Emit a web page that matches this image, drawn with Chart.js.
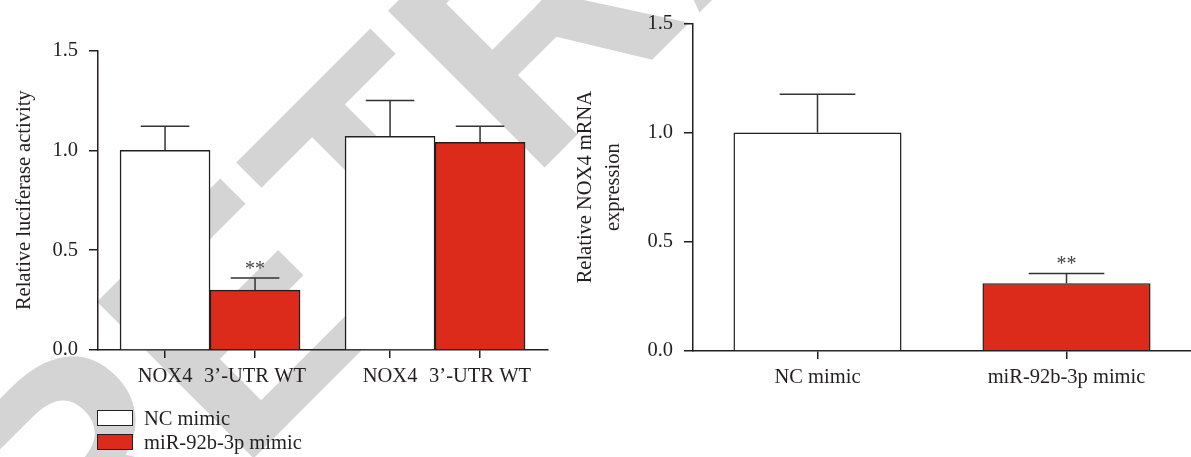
<!DOCTYPE html>
<html>
<head>
<meta charset="utf-8">
<script src="https://cdn.jsdelivr.net/npm/chart.js@4.4.1/dist/chart.umd.min.js"></script>
<style>
  html, body { margin: 0; padding: 0; background: #fff; }
  #quadro { position: relative; width: 1191px; height: 457px; overflow: hidden; }
  #marca { position: absolute; left: 0; top: 0; }
  #grafico1 { position: absolute; left: 0; top: 0; }
  #grafico2 { position: absolute; left: 560px; top: 0; }
  #legenda { position: absolute; left: 97px; top: 410px; font: 20.5px "Liberation Serif"; color: #231f20; }
  #legenda div { height: 24px; line-height: 16px; white-space: nowrap; }
  #legenda span.caixa { display: inline-block; width: 34px; height: 14px; border: 1.5px solid #231f20; vertical-align: top; margin-right: 11px; }
</style>
</head>
<body>
<div id="quadro">
  <svg id="marca" width="1191" height="457">
    <text x="74" y="638" transform="rotate(-45 74 638)" font-family="Liberation Sans" font-weight="bold" font-size="322" fill="#d4d4d4">RETRACTED</text>
  </svg>
  <canvas id="grafico1" width="560" height="457"></canvas>
  <canvas id="grafico2" width="631" height="457"></canvas>
  <div id="legenda"></div>
</div>
<script>
// grafico da esquerda - luciferase
const rotulosLuci = ['NOX4', '3\u2019-UTR WT', 'NOX4', '3\u2019-UTR WT'];
const posLuci = [0, 1, 2.5, 3.5];
const ncLuciX = [0, 2.5];
const ncLuci = [1.00, 1.07];
const ncLuciErro = [1.12, 1.25];
const mimicLuciX = [1, 3.5];
const mimicLuci = [0.30, 1.04];
const mimicLuciErro = [0.36, 1.12];
const mimicLuciSig = ['**', ''];

// grafico da direita - mRNA
const rotulosNox = ['NC mimic', 'miR-92b-3p mimic'];
const ncNox = [1.00, null];
const ncNoxErro = [1.175, null];
const mimicNox = [null, 0.31];
const mimicNoxErro = [null, 0.355];
const mimicNoxSig = ['', '**'];

const nomes = ['NC mimic', 'miR-92b-3p mimic'];
const cores = ['#ffffff', '#dc2b1b'];
const corTexto = '#231f20';
const fonte = { family: 'Liberation Serif', size: 20.5 };

const barrasErro = {
  id: 'barrasErro',
  afterDatasetsDraw(chart, args, opts) {
    const ctx = chart.ctx;
    const escalaY = chart.scales.y;
    chart.data.datasets.forEach((ds, i) => {
      const meta = chart.getDatasetMeta(i);
      meta.data.forEach((bar, j) => {
        const valor = meta._parsed[j] ? meta._parsed[j].y : null;
        const topo = ds.erros[j];
        if (valor == null || isNaN(valor) || topo == null) return;
        const yTopo = escalaY.getPixelForValue(topo);
        const meia = bar.width * opts.cap / 2;
        ctx.save();
        ctx.strokeStyle = '#333';
        ctx.lineWidth = 1.5;
        ctx.beginPath();
        ctx.moveTo(bar.x, bar.y);
        ctx.lineTo(bar.x, yTopo);
        ctx.moveTo(bar.x - meia, yTopo);
        ctx.lineTo(bar.x + meia, yTopo);
        ctx.stroke();
        if (ds.sig && ds.sig[j]) {
          ctx.fillStyle = '#444';
          ctx.font = '20px "Liberation Serif"';
          ctx.textAlign = 'center';
          ctx.textBaseline = 'alphabetic';
          ctx.fillText(ds.sig[j], bar.x, yTopo - 3);
        }
        ctx.restore();
      });
    });
  }
};

function eixoY(titulo, largura, padTitulo) {
  return {
    min: 0,
    max: 1.5,
    ticks: { stepSize: 0.5, callback: v => v.toFixed(1), color: corTexto, font: fonte, padding: 11 },
    grid: { drawOnChartArea: false, tickLength: 9, color: corTexto, lineWidth: 1.5 },
    border: { color: corTexto, width: 1.5 },
    title: { display: true, text: titulo, color: corTexto, font: { family: 'Liberation Serif', size: 20.5, lineHeight: 1.4 }, padding: { top: padTitulo, bottom: 0 } },
    afterFit: s => { s.width = largura; }
  };
}

const grafico1 = new Chart(document.getElementById('grafico1'), {
  type: 'bar',
  data: {
    datasets: [
      {
        label: nomes[0],
        data: ncLuciX.map((x, i) => ({ x: x, y: ncLuci[i] })),
        erros: ncLuciErro,
        backgroundColor: cores[0],
        borderColor: corTexto,
        borderWidth: 1.5
      },
      {
        label: nomes[1],
        data: mimicLuciX.map((x, i) => ({ x: x, y: mimicLuci[i] })),
        erros: mimicLuciErro,
        sig: mimicLuciSig,
        backgroundColor: cores[1],
        borderColor: corTexto,
        borderWidth: 1.5
      }
    ]
  },
  options: {
    responsive: false,
    animation: false,
    grouped: false,
    categoryPercentage: 1,
    barPercentage: 1,
    layout: { padding: { top: 50.5, right: 12, left: 0, bottom: 0 } },
    plugins: { legend: { display: false }, tooltip: { enabled: false }, barrasErro: { cap: 0.54 } },
    scales: {
      x: {
        type: 'linear',
        min: -0.745,
        max: 4.255,
        offset: false,
        afterBuildTicks: s => { s.ticks = posLuci.map(v => ({ value: v })); },
        ticks: { callback: (v, i) => rotulosLuci[i], autoSkip: false, maxRotation: 0, color: corTexto, font: fonte, padding: 6 },
        grid: { offset: false, drawOnChartArea: false, tickLength: 8, color: corTexto, lineWidth: 1.5 },
        border: { color: corTexto, width: 1.5 },
        afterFit: s => { s.height = 107; }
      },
      y: eixoY('Relative luciferase activity', 98, 10)
    }
  },
  plugins: [barrasErro]
});

const grafico2 = new Chart(document.getElementById('grafico2'), {
  type: 'bar',
  data: {
    labels: rotulosNox,
    datasets: [
      { label: nomes[0], data: ncNox, erros: ncNoxErro, backgroundColor: cores[0], borderColor: corTexto, borderWidth: 1.5 },
      { label: nomes[1], data: mimicNox, erros: mimicNoxErro, sig: mimicNoxSig, backgroundColor: cores[1], borderColor: corTexto, borderWidth: 1.5 }
    ]
  },
  options: {
    responsive: false,
    animation: false,
    grouped: false,
    categoryPercentage: 1,
    barPercentage: 0.675,
    layout: { padding: { top: 16.5, right: 0, left: 0, bottom: 0 } },
    plugins: { legend: { display: false }, tooltip: { enabled: false }, barrasErro: { cap: 0.45 } },
    scales: {
      x: {
        ticks: { color: corTexto, font: fonte, padding: 6, maxRotation: 0 },
        grid: { offset: false, drawOnChartArea: false, tickLength: 8, color: corTexto, lineWidth: 1.5 },
        border: { color: corTexto, width: 1.5 },
        afterFit: s => { s.height = 106; }
      },
      y: eixoY(['Relative NOX4 mRNA', 'expression'], 133, 11)
    }
  },
  plugins: [barrasErro]
});

// legenda em html, montada a partir dos datasets
const legenda = document.getElementById('legenda');
grafico1.data.datasets.forEach(ds => {
  const linha = document.createElement('div');
  linha.innerHTML = `<span class="caixa" style="background:${ds.backgroundColor}"></span>${ds.label}`;
  legenda.appendChild(linha);
});
</script>
</body>
</html>
